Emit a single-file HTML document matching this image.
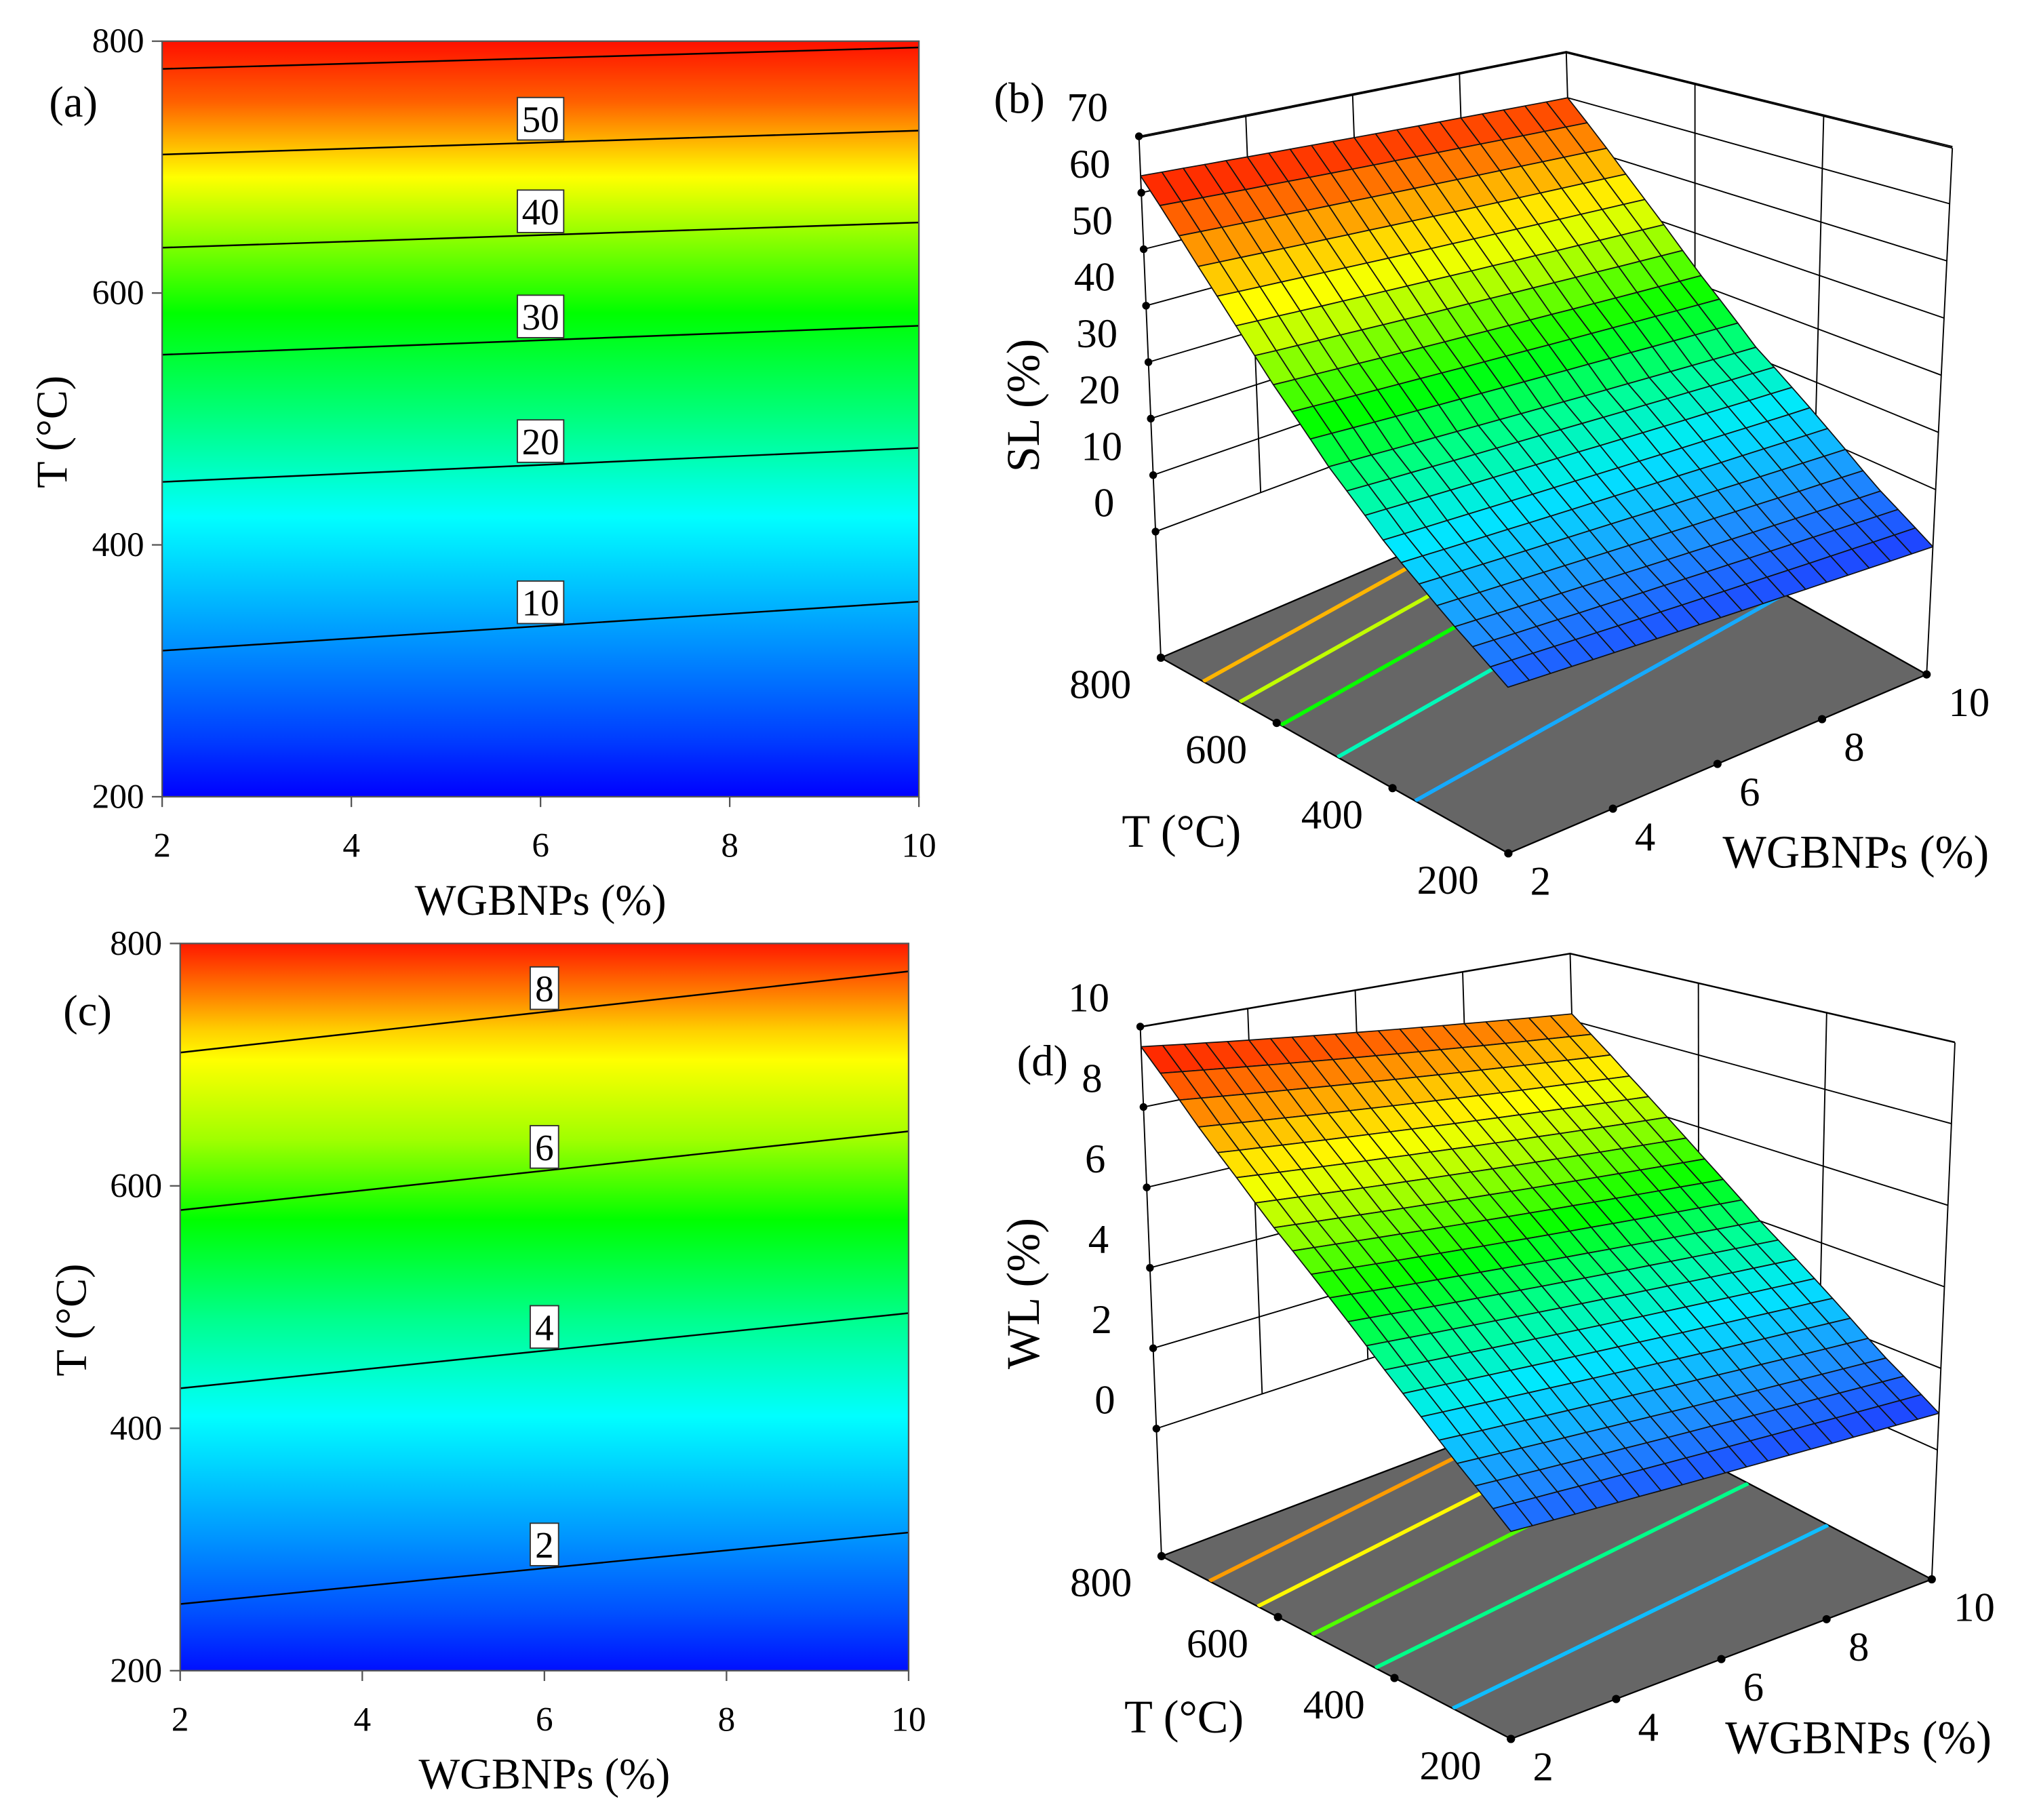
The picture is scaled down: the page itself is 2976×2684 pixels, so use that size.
<!DOCTYPE html>
<html><head><meta charset="utf-8"><style>
html,body{margin:0;padding:0;background:#fff;}
svg{display:block;font-family:"Liberation Serif",serif;}
text{font-family:"Liberation Serif",serif;}
</style></head><body>
<svg id="fig" xmlns="http://www.w3.org/2000/svg" width="2976" height="2684" viewBox="0 0 1568 1414" preserveAspectRatio="none">
<defs>
<linearGradient id="gradA" x1="0" y1="32" x2="0" y2="619" gradientUnits="userSpaceOnUse"></linearGradient>
<linearGradient id="gradC" x1="0" y1="733" x2="0" y2="1298" gradientUnits="userSpaceOnUse"></linearGradient>
<clipPath id="clipA"><rect x="126" y="32" width="588" height="587"/></clipPath>
<clipPath id="clipC"><rect x="140" y="733" width="566" height="565"/></clipPath>
</defs>
</svg>
<script>
// ---------- data ----------
const xTicks=[2,4,6,8,10];
const yTicks=[200,400,600,800];
// panel (a) SL contours: T at WGBNPs=2 and 10
const aLevels=[10,20,30,40,50,60];
const aTAtW2=[316,450,551,636,710,778];
const aTAtW10=[355,477,574,656,729,795];
const aLabelled=[10,20,30,40,50];
// panel (c) WL contours
const cLevels=[2,4,6,8];
const cTAtW2=[255,433,580,710];
const cTAtW10=[314,495,645,777];
// panel (b) SL surface
const tGrid=[200,300,400,500,600,700,800];
const bSLAtW2=[3,9,16,25,36,49,63];
const bSLAtW10=[0,6,14,22,33,46,60];
const bZTicks=[0,10,20,30,40,50,60,70];
const bFloorLevels=[10,20,30,40,50];
const bFloorTAtW2=[361,495,593,664,727];
const bFloorTAtW10=[446,585,680,750,810];
// panel (d) WL surface
const dWLAtW2=[1.4,2.5,3.7,5.0,6.3,7.8,9.5];
const dWLAtW10=[0.9,1.8,2.9,4.0,5.3,6.7,8.2];
const dZTicks=[0,2,4,6,8,10];
const dFloorLevels=[2.5,4,5.5,7,8];
const dFloorTAtW2=[300,433,542,635,718];
const dFloorTAtW10=[378,515,630,725,805];
const tTicks3=[200,400,600,800];
const wTicks3=[2,4,6,8,10];

// ---------- helpers ----------
const NS='http://www.w3.org/2000/svg';
const svg=document.getElementById('fig');
function mk(tag,attrs,parent){const e=document.createElementNS(NS,tag);for(const k in attrs)e.setAttribute(k,attrs[k]);(parent||svg).appendChild(e);return e;}
function txt(s,x,y,size,parent,anchor){const e=mk('text',{x:x,y:y,'font-size':size,'font-family':'Liberation Serif, serif','text-anchor':anchor||'middle','dominant-baseline':'central',fill:'#000'},parent);e.textContent=s;return e;}
// surface colour scale (style)
const cmap=[[0,[30,60,255]],[0.12,[30,144,255]],[0.25,[0,232,255]],[0.35,[0,255,150]],[0.47,[0,255,0]],[0.6,[160,255,0]],[0.7,[255,255,0]],[0.82,[255,160,0]],[1,[255,16,0]]];
function cscale(x){x=Math.max(0,Math.min(1,x));for(let i=0;i<cmap.length-1;i++){const a=cmap[i],b=cmap[i+1];if(x<=b[0]){const f=(x-a[0])/(b[0]-a[0]);return 'rgb('+a[1].map((v,k)=>Math.round(v+(b[1][k]-v)*f)).join(',')+')';}}return 'rgb(255,16,0)';}

const gA=[[0,'#ff1000'],[0.08,'#ff6000'],[0.15,'#ffd000'],[0.18,'#ffff00'],[0.27,'#80ff00'],[0.36,'#00ff00'],[0.5,'#00ff80'],[0.63,'#00ffff'],[0.8,'#0090ff'],[0.92,'#0040ff'],[1,'#0000ff']];
const gC=[[0,'#ff1800'],[0.07,'#ff8000'],[0.12,'#ffd000'],[0.16,'#ffff00'],[0.27,'#a0ff00'],[0.38,'#00ff00'],[0.52,'#00ff90'],[0.65,'#00ffff'],[0.8,'#00a0ff'],[0.92,'#0050ff'],[1,'#0010ff']];
function fillGrad(id,stops){const g=document.getElementById(id);stops.forEach(s=>mk('stop',{offset:s[0],'stop-color':s[1]},g));}
fillGrad('gradA',gA);fillGrad('gradC',gC);

// ---------- 2D contour panels ----------
function contour2D(o){
  const g=mk('g',{});
  
  
  const X=w=>o.x0+(w-2)/8*(o.x1-o.x0);
  const Y=t=>o.y1-(t-200)/600*(o.y1-o.y0);
  const bg=mk('rect',{x:o.x0,y:o.y0,width:o.x1-o.x0,height:o.y1-o.y0,fill:'url(#'+o.grad+')'},g);
  
  
  const lg=mk('g',{'clip-path':'url(#'+o.clip+')'},g);
  o.levels.forEach((lv,i)=>{
    const ln=mk('line',{x1:X(2),y1:Y(o.t2[i]),x2:X(10),y2:Y(o.t10[i]),stroke:'#000','stroke-width':1.3},lg);
    
    
    if(o.labelled.indexOf(lv)>=0){
      const ym=Y((o.t2[i]+o.t10[i])/2);const s=String(lv);const bw=s.length>1?36:22;
      const r=mk('rect',{x:X(6)-bw/2,y:ym-35,width:bw,height:33,fill:'#fff',stroke:'#333','stroke-width':1},g);
      
      
      const t=txt(s,X(6),ym-18,29,g);
      
      
    }
  });
  const fr=mk('rect',{x:o.x0,y:o.y0,width:o.x1-o.x0,height:o.y1-o.y0,fill:'none',stroke:'#555','stroke-width':1.2},g);
  
  
  xTicks.forEach(v=>{
    const tk=mk('line',{x1:X(v),y1:o.y1,x2:X(v),y2:o.y1+8,stroke:'#555','stroke-width':1.2},g);
    
    
    const t=txt(String(v),X(v),o.y1+38,o.fs,g);
    
    
  });
  yTicks.forEach(v=>{
    const tk=mk('line',{x1:o.x0-8,y1:Y(v),x2:o.x0,y2:Y(v),stroke:'#555','stroke-width':1.2},g);
    
    
    const t=txt(String(v),o.x0-14,Y(v),o.fs,g,'end');
    
    
  });
  const xt=txt('WGBNPs (%)',(o.x0+o.x1)/2,o.y1+80,34,g);
  
  
  const yt=txt('T (°C)',0,0,34,g);
  yt.setAttribute('transform','translate('+o.ytx+','+((o.y0+o.y1)/2+10)+') rotate(-90)');
  
  
  const pl=txt(o.panel,o.plx,o.ply,34,g);
  
  
}
contour2D({name:'panel-a-sl-contour',x0:126,x1:714,y0:32,y1:619,grad:'gradA',clip:'clipA',levels:aLevels,t2:aTAtW2,t10:aTAtW10,labelled:aLabelled,fs:27,ytx:40,panel:'(a)',plx:57,ply:79});
contour2D({name:'panel-c-wl-contour',x0:140,x1:706,y0:733,y1:1298,grad:'gradC',clip:'clipC',levels:cLevels,t2:cTAtW2,t10:cTAtW10,labelled:cLevels,fs:27,ytx:55,panel:'(c)',plx:68,ply:785});

// ---------- 3D surface panels ----------
function surface3D(o){
  const g=mk('g',{});
  
  
  const zOf=(T,W)=>{
    let i=Math.min(tGrid.length-2,Math.max(0,Math.floor((T-200)/100)));
    const f=(T-tGrid[i])/(tGrid[i+1]-tGrid[i]);
    const a=o.z2[i]+(o.z2[i+1]-o.z2[i])*f, b=o.z10[i]+(o.z10[i+1]-o.z10[i])*f;
    return a+(b-a)*(W-2)/8;};
  const P=(t,w,h)=>{
    const fx=o.O[0]+t*(o.L[0]-o.O[0])+w*(o.R[0]-o.O[0]);
    const fy=o.O[1]+t*(o.L[1]-o.O[1])+w*(o.R[1]-o.O[1]);
    const vx=o.vF[0]*(1-t)*(1-w)+o.vL[0]*t*(1-w)+o.vR[0]*(1-t)*w+o.vB[0]*t*w;
    const vy=o.vF[1]*(1-t)*(1-w)+o.vL[1]*t*(1-w)+o.vR[1]*(1-t)*w+o.vB[1]*t*w;
    return [fx+vx*h,fy+vy*h];};
  const H=z=>o.h0+z*o.hk;
  const tt=T=>(T-200)/600, ww=W=>(W-2)/8;
  const pts=a=>a.map(p=>p[0].toFixed(1)+','+p[1].toFixed(1)).join(' ');
  const wg=mk('g',{stroke:'#000','stroke-width':1,fill:'none'},g);
  
  
  o.zt.forEach(z=>{const l=mk('polyline',{points:pts([P(1,0,H(z)),P(1,1,H(z)),P(0,1,H(z))])},wg);
    
    });
  [0.25,0.5,0.75].forEach(w=>{const l=mk('line',{x1:P(1,w,H(o.zt[0]))[0],y1:P(1,w,H(o.zt[0]))[1],x2:P(1,w,1)[0],y2:P(1,w,1)[1]},wg);
    
    });
  [1/3,2/3].forEach(t=>{const l=mk('line',{x1:P(t,1,H(o.zt[0]))[0],y1:P(t,1,H(o.zt[0]))[1],x2:P(t,1,1)[0],y2:P(t,1,1)[1]},wg);
    
    });
  [[1,0],[1,1],[0,1]].forEach(c=>{const l=mk('line',{x1:P(c[0],c[1],0)[0],y1:P(c[0],c[1],0)[1],x2:P(c[0],c[1],1)[0],y2:P(c[0],c[1],1)[1]},wg);
    
    });
  const top=mk('polyline',{points:pts([P(1,0,1),P(1,1,1),P(0,1,1)])},wg);
  
  
  const floorPts=pts([P(0,0,0),P(0,1,0),P(1,1,0),P(1,0,0)]);
  const cid='clipFloor'+o.name;
  const cp=mk('clipPath',{id:cid},svg.querySelector('defs'));
  mk('polygon',{points:floorPts},cp);
  const fl=mk('polygon',{points:floorPts,fill:'#666',stroke:'#000','stroke-width':1.2},g);
  
  
  const lo=Math.min(...o.z2,...o.z10), hi=Math.max(...o.z2,...o.z10);
  const col=z=>cscale((z-lo)/(hi-lo));
  const fcg=mk('g',{'clip-path':'url(#'+cid+')'},g);
  o.fl.forEach((lv,i)=>{
    const a=P(tt(o.f2[i]),0,0), b=P(tt(o.f10[i]),1,0);
    const ln=mk('line',{x1:a[0],y1:a[1],x2:b[0],y2:b[1],stroke:col(lv),'stroke-width':3},fcg);
    
    });
  tTicks3.forEach(T=>{const p=P(tt(T),0,0);const d=mk('circle',{cx:p[0],cy:p[1],r:3.2,fill:'#000'},g);
    
    });
  wTicks3.forEach(W=>{const p=P(0,ww(W),0);const d=mk('circle',{cx:p[0],cy:p[1],r:3.2,fill:'#000'},g);
    
    });
  o.zt.forEach(z=>{const p=P(1,0,H(z));const d=mk('circle',{cx:p[0],cy:p[1],r:3,fill:'#000'},g);
    
    });
  const N=20, cells=[];
  for(let i=0;i<N;i++)for(let j=0;j<N;j++)cells.push([i,j]);
  cells.sort((a,b)=>(b[0]+b[1])-(a[0]+a[1]));
  const sg=mk('g',{stroke:'#111','stroke-width':0.9,'stroke-linejoin':'round'},g);
  
  
  cells.forEach(c=>{
    const t0=c[0]/N,t1=(c[0]+1)/N,w0=c[1]/N,w1=(c[1]+1)/N;
    const zz=(t,w)=>zOf(200+t*600,2+w*8);
    const corners=[[t0,w0],[t1,w0],[t1,w1],[t0,w1]];
    const zs=corners.map(k=>zz(k[0],k[1]));
    const poly=mk('polygon',{points:pts(corners.map((k,m)=>P(k[0],k[1],H(zs[m])))),fill:col(zs.reduce((a,b)=>a+b)/4)},sg);
    
    
  });
  o.zt.forEach((z,i)=>{const p=P(1,0,H(z));const t=txt(String(z),p[0]-40,p[1]-o.zoff,32,g,'middle');
    
    });
  tTicks3.forEach(T=>{const p=P(tt(T),0,0);const t=txt(String(T),p[0]-47,p[1]+21,32,g);
    
    });
  wTicks3.forEach(W=>{const p=P(0,ww(W),0);const t=txt(String(W),p[0]+(W==10?33:25),p[1]+22,32,g);
    
    });
  const tt1=txt('T (°C)',o.O[0]-254,o.O[1]-17,36,g);
  
  
  const wt=txt('WGBNPs (%)',o.O[0]+270,o.O[1]-1,36,g);
  
  
  const zt=txt(o.ztitle,0,0,36,g);
  zt.setAttribute('transform','translate(795,'+o.zty+') rotate(-90)');
  
  
  const pl=txt(o.panel,o.plx,o.ply,34,g);
  
  
}
surface3D({name:'panel-b-sl-surface',O:[1172,663],L:[902,511],R:[1497,524],vF:[-1,-469],vL:[-17,-404],vR:[20,-409],vB:[-10,-331],
  h0:0.2426,hk:0.01086,z2:bSLAtW2,z10:bSLAtW10,zt:bZTicks,fl:bFloorLevels,f2:bFloorTAtW2,f10:bFloorTAtW10,zoff:22,ztitle:'SL (%)',zty:315,panel:'(b)',plx:792,ply:76});
surface3D({name:'panel-d-wl-surface',O:[1174,1351],L:[902.5,1209],R:[1501,1227],vF:[0,-464],vL:[-16.5,-411],vR:[18,-417],vB:[-9.5,-344],
  h0:0.241,hk:0.0760,z2:dWLAtW2,z10:dWLAtW10,zt:dZTicks,fl:dFloorLevels,f2:dFloorTAtW2,f10:dFloorTAtW10,zoff:22,ztitle:'WL (%)',zty:1005,panel:'(d)',plx:810,ply:824});
</script>
</body></html>
